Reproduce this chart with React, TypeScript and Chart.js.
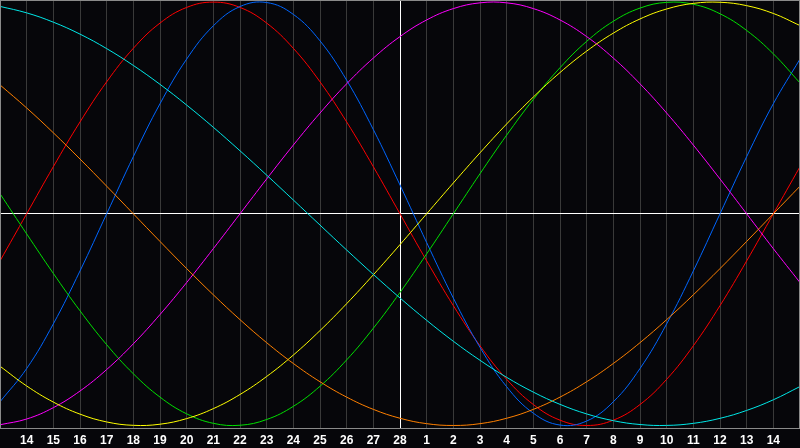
import React, { useEffect, useRef } from "react";
import { Chart, registerables } from "chart.js";

Chart.register(...registerables);

const TICK_LABELS = [
  "", "14", "15", "16", "17", "18", "19", "20", "21", "22", "23", "24", "25", "26", "27", "28",
  "1", "2", "3", "4", "5", "6", "7", "8", "9", "10", "11", "12", "13", "14", "",
];

const physical = [
  -0.888, -0.731, -0.52, -0.27, 0, 0.27, 0.52, 0.731, 0.888, 0.979, 0.998, 0.942, 0.817, 0.631, 0.398, 0.136,
  -0.136, -0.398, -0.631, -0.817, -0.942, -0.998, -0.979, -0.888, -0.731, -0.52, -0.27, 0, 0.27, 0.52, 0.731,
];
const emotional = [
  -0.2225, 0, 0.2225, 0.4339, 0.6235, 0.7818, 0.901, 0.9749, 1, 0.9749, 0.901, 0.7818, 0.6235, 0.4339, 0.2225, 0,
  -0.2225, -0.4339, -0.6235, -0.7818, -0.901, -0.9749, -1, -0.9749, -0.901, -0.7818, -0.6235, -0.4339, -0.2225, 0, 0.2225,
];
const intellectual = [
  0.095, -0.095, -0.2817, -0.4582, -0.6182, -0.7557, -0.866, -0.945, -0.9898, -0.9989, -0.9718, -0.9096, -0.8146, -0.6901, -0.5406, -0.3717,
  -0.1893, 0, 0.1893, 0.3717, 0.5406, 0.6901, 0.8146, 0.9096, 0.9718, 0.9989, 0.9898, 0.945, 0.866, 0.7557, 0.6182,
];
const intuitive = [
  -0.9966, -0.9694, -0.9158, -0.8372, -0.7357, -0.6142, -0.4759, -0.3247, -0.1646, 0, 0.1646, 0.3247, 0.4759, 0.6142, 0.7357, 0.8372,
  0.9158, 0.9694, 0.9966, 0.9966, 0.9694, 0.9158, 0.8372, 0.7357, 0.6142, 0.4759, 0.3247, 0.1646, 0, -0.1646, -0.3247,
];
const aesthetic = [
  -0.72, -0.8133, -0.8894, -0.9464, -0.9833, -0.9993, -0.994, -0.9675, -0.9204, -0.8535, -0.7685, -0.6673, -0.5517, -0.4245, -0.2881, -0.1456,
  0, 0.1456, 0.2881, 0.4245, 0.5517, 0.6673, 0.7685, 0.8535, 0.9204, 0.9675, 0.994, 0.9993, 0.9833, 0.9464, 0.8894,
];
const awareness = [
  0.6088, 0.5, 0.3827, 0.2588, 0.1305, 0, -0.1305, -0.2588, -0.3827, -0.5, -0.6088, -0.7071, -0.7934, -0.866, -0.9239, -0.9659,
  -0.9914, -1, -0.9914, -0.9659, -0.9239, -0.866, -0.7934, -0.7071, -0.6088, -0.5, -0.3827, -0.2588, -0.1305, 0, 0.1305,
];
const spiritual = [
  0.9798, 0.9492, 0.9053, 0.8488, 0.7803, 0.7008, 0.6115, 0.5136, 0.4086, 0.2977, 0.1827, 0.0652, -0.0532, -0.1711, -0.2864, -0.3977,
  -0.5033, -0.6021, -0.692, -0.7726, -0.8424, -0.9002, -0.9454, -0.9773, -0.9955, -0.9997, -0.9899, -0.9662, -0.9289, -0.8786, -0.816,
];

const SERIES = [
  { label: "Spiritual", data: spiritual, color: "#00e8e8" },
  { label: "Awareness", data: awareness, color: "#ff8000" },
  { label: "Aesthetic", data: aesthetic, color: "#ffff00" },
  { label: "Intuitive", data: intuitive, color: "#ff00ff" },
  { label: "Intellectual", data: intellectual, color: "#00e000" },
  { label: "Physical", data: physical, color: "#0066ff" },
  { label: "Emotional", data: emotional, color: "#ff0000" },
];

const TODAY_INDEX = 15;

const framePlugin = {
  id: "frame",
  beforeDraw(chart: any) {
    const { ctx, width, height } = chart;
    ctx.save();
    ctx.fillStyle = "#06060a";
    ctx.fillRect(0, 0, width, height);
    ctx.restore();
  },
  afterDraw(chart: any) {
    const { ctx, chartArea } = chart;
    ctx.save();
    ctx.strokeStyle = "#8a8a8a";
    ctx.lineWidth = 1;
    ctx.strokeRect(
      Math.round(chartArea.left) + 0.5,
      Math.round(chartArea.top) + 0.5,
      Math.round(chartArea.right - chartArea.left) - 1,
      Math.round(chartArea.bottom - chartArea.top)
    );
    ctx.restore();
  },
};

export default function App() {
  const ref = useRef<HTMLCanvasElement>(null);

  useEffect(() => {
    document.body.style.margin = "0";
    document.body.style.background = "#06060a";
    const canvas = ref.current;
    if (!canvas) return;
    const chart = new Chart(canvas, {
      type: "line",
      data: {
        labels: TICK_LABELS,
        datasets: SERIES.map((s) => ({
          label: s.label,
          data: s.data,
          borderColor: s.color,
          borderWidth: 1,
          pointRadius: 0,
          tension: 0.4,
          fill: false,
        })),
      },
      options: {
        responsive: false,
        animation: false,
        events: [],
        layout: { padding: 0 },
        plugins: { legend: { display: false }, tooltip: { enabled: false } },
        scales: {
          x: {
            type: "category",
            offset: false,
            border: { display: false },
            grid: {
              drawTicks: true,
              tickLength: 6,
              tickColor: "rgba(0,0,0,0)",
              color: (c: any) => (c.index === TODAY_INDEX ? "#ffffff" : "#393939"),
              lineWidth: 1,
            },
            ticks: {
              autoSkip: false,
              maxRotation: 0,
              minRotation: 0,
              padding: 0,
              color: "#ffffff",
              font: { family: "'Liberation Sans', Arial, sans-serif", size: 12, weight: "bold" },
            },
          },
          y: {
            min: -1.01,
            max: 1.01,
            border: { display: false },
            afterBuildTicks: (axis: any) => {
              axis.ticks = [{ value: 0 }];
            },
            grid: {
              drawTicks: false,
              color: "#ffffff",
              lineWidth: 1,
            },
            ticks: { display: false, padding: 0 },
          },
        },
      },
      plugins: [framePlugin],
    } as any);
    return () => chart.destroy();
  }, []);

  return <canvas ref={ref} width={800} height={448} style={{ display: "block" }} />;
}
